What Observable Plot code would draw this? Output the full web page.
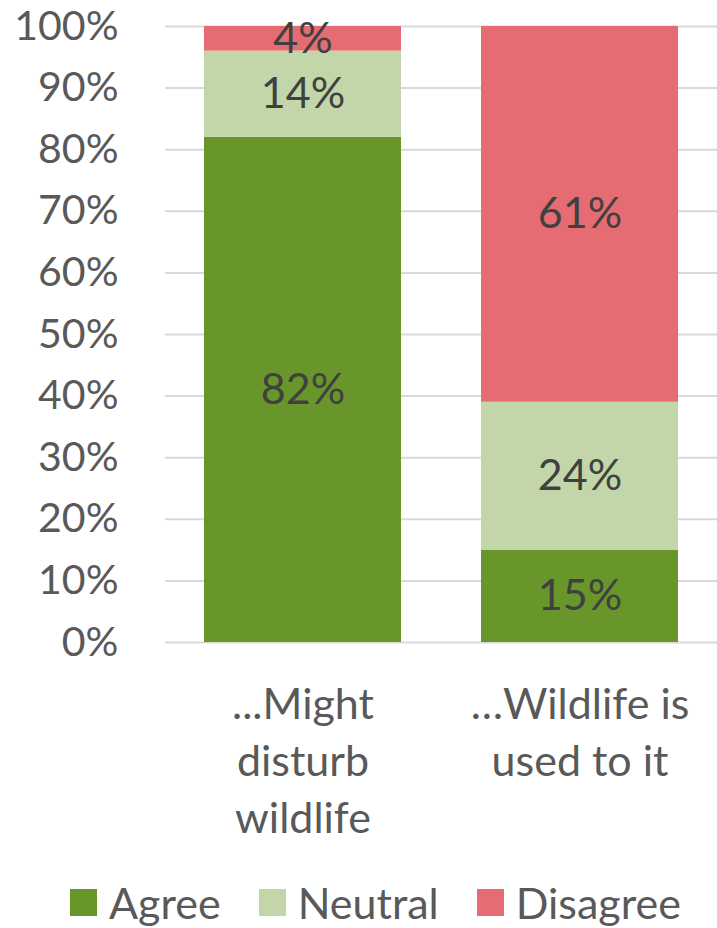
<!DOCTYPE html>
<html>
<head>
<meta charset="utf-8">
<script src="https://cdn.jsdelivr.net/npm/d3@7"></script>
<script src="https://cdn.jsdelivr.net/npm/@observablehq/plot@0.6"></script>
<style>
  html, body { margin: 0; padding: 0; background: #fff; }
  #chart { width: 717px; }
  .legend { display: flex; align-items: center; height: 84px; font-family: Lato, "Open Sans", sans-serif; font-size: 43px; color: #595959; padding-left: 70px; white-space: nowrap; }
  .legend .item { display: flex; align-items: center; margin-right: 38px; }
  .legend .sw { width: 27px; height: 27px; margin-right: 12px; }
</style>
</head>
<body>
<div id="chart"></div>
<script>
const categories = ["...Might\ndisturb\nwildlife", "\u2026Wildlife is\nused to it"];
const responses = ["Agree", "Neutral", "Disagree"];
const colors = ["#68962a", "#c3d6a9", "#e56c72"];
const agree = [82, 15];
const neutral = [14, 24];
const disagree = [4, 61];
const yTicks = [0, 10, 20, 30, 40, 50, 60, 70, 80, 90, 100];

const series = [agree, neutral, disagree];
const data = [];
categories.forEach((c, i) => {
  responses.forEach((r, j) => data.push({cat: c, resp: r, value: series[j][i]}));
});

const chart = Plot.plot({
  width: 717,
  height: 860,
  marginTop: 26,
  marginBottom: 218,
  marginLeft: 165,
  marginRight: 0,
  style: {fontFamily: "Lato, 'Open Sans', sans-serif", color: "#595959", background: "#fff"},
  x: {domain: categories, paddingInner: 0.29, paddingOuter: 0.14, axis: null},
  y: {domain: [0, 100], axis: null},
  color: {domain: responses, range: colors},
  marks: [
    Plot.gridY(yTicks, {stroke: "#d9d9d9", strokeOpacity: 1, strokeWidth: 2}),
    Plot.axisY({ticks: yTicks, tickFormat: d => d + "%", tickSize: 0, tickPadding: 47, fontSize: 41, fill: "#595959", label: null}),
    Plot.barY(data, {x: "cat", y: "value", fill: "resp", order: responses}),
    Plot.text(data, Plot.stackY({x: "cat", y: "value", z: "resp", order: responses, text: d => d.value + "%", fontSize: 43, fill: "#404040"})),
    Plot.text(categories, {x: d => d, y: () => 0, text: d => d, lineAnchor: "top", dy: 36, fontSize: 43, lineHeight: 1.33, fill: "#595959"})
  ]
});
document.getElementById("chart").appendChild(chart);

const legend = document.createElement("div");
legend.className = "legend";
responses.forEach((r, i) => {
  const item = document.createElement("div");
  item.className = "item";
  const sw = document.createElement("span");
  sw.className = "sw";
  sw.style.background = colors[i];
  const t = document.createElement("span");
  t.textContent = r;
  item.appendChild(sw);
  item.appendChild(t);
  legend.appendChild(item);
});
document.getElementById("chart").appendChild(legend);
</script>
</body>
</html>
